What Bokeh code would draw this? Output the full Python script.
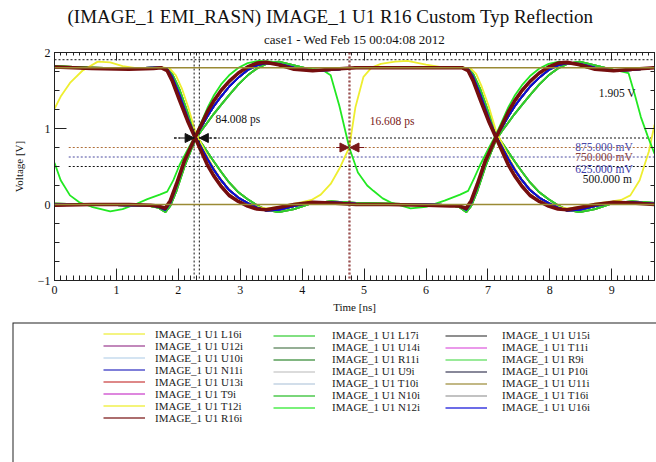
from bokeh.plotting import figure
from bokeh.models import (Range1d, LinearAxis, SingleIntervalTicker, Span, Arrow, BoxAnnotation,
                          NormalHead, Label, Legend, LegendItem, Title, CustomLabelingPolicy)
from bokeh.layouts import column
from bokeh.embed import file_html
from bokeh.resources import INLINE

FONT = "Liberation Serif"

TITLE = "(IMAGE_1 EMI_RASN) IMAGE_1 U1 R16 Custom Typ Reflection"
SUBTITLE = "case1 - Wed Feb 15 00:04:08 2012"
X_LABEL = "Time [ns]"
Y_LABEL = "Voltage [V]"
T_END = 9.69

# ---- main bundle: fall at first crossing, rise at second (time in ns, volts)
T_FR = [0.0, 0.6, 1.2, 1.6, 1.72, 1.82, 1.90, 2.02, 2.15, 2.27, 2.37, 2.47, 2.57, 2.69, 2.82,
        2.97, 3.12, 3.27, 3.42, 3.62, 3.87, 4.17, 4.47, 4.87, 5.4, 6.0, 6.4, 6.53, 6.65, 6.73,
        6.83, 6.96, 7.13, 7.23, 7.33, 7.43, 7.55, 7.68, 7.83, 7.98, 8.13, 8.28, 8.48, 8.73,
        9.03, 9.33, 9.69]
FR_A = [1.81, 1.79, 1.78, 1.79, 1.80, 1.76, 1.63, 1.37, 1.10, 0.88, 0.70, 0.52, 0.38, 0.24,
        0.12, 0.04, -0.02, -0.06, -0.07, -0.04, 0.00, 0.03, 0.02, 0.00, 0.00, -0.01, -0.02,
        -0.02, -0.05, 0.05, 0.27, 0.58, 0.88, 1.05, 1.22, 1.36, 1.50, 1.62, 1.73, 1.81, 1.86,
        1.87, 1.84, 1.78, 1.76, 1.78, 1.80]
FR_B = [1.80, 1.79, 1.79, 1.80, 1.80, 1.78, 1.68, 1.44, 1.14, 0.90, 0.75, 0.60, 0.46, 0.32,
        0.19, 0.09, 0.02, -0.04, -0.08, -0.07, -0.02, 0.03, 0.03, 0.01, 0.00, 0.00, -0.01,
        -0.02, -0.07, 0.02, 0.24, 0.56, 0.88, 1.02, 1.16, 1.29, 1.42, 1.55, 1.67, 1.77, 1.83,
        1.86, 1.85, 1.80, 1.76, 1.77, 1.80]
FR_C = [1.82, 1.80, 1.79, 1.80, 1.80, 1.79, 1.72, 1.51, 1.21, 0.92, 0.81, 0.69, 0.57, 0.43,
        0.29, 0.16, 0.07, -0.01, -0.07, -0.10, -0.06, 0.02, 0.04, 0.02, 0.01, 0.00, -0.01,
        -0.03, -0.10, -0.02, 0.18, 0.50, 0.85, 0.97, 1.08, 1.19, 1.31, 1.44, 1.58, 1.70, 1.79,
        1.85, 1.88, 1.83, 1.77, 1.77, 1.80]

# ---- main bundle: rise at first crossing, fall at second
T_RF = [0.0, 0.6, 1.2, 1.55, 1.67, 1.79, 1.87, 1.97, 2.10, 2.27, 2.37, 2.47, 2.57, 2.69, 2.82,
        2.97, 3.12, 3.27, 3.42, 3.62, 3.87, 4.17, 4.47, 4.87, 5.4, 6.0, 6.4, 6.58, 6.68, 6.76,
        6.88, 7.01, 7.13, 7.23, 7.33, 7.43, 7.55, 7.68, 7.83, 7.98, 8.13, 8.28, 8.48, 8.73,
        9.03, 9.33, 9.69]
RF_A = [-0.01, 0.00, 0.00, -0.01, -0.02, -0.05, 0.05, 0.27, 0.58, 0.88, 1.05, 1.22, 1.36, 1.50,
        1.62, 1.73, 1.81, 1.86, 1.87, 1.84, 1.78, 1.76, 1.78, 1.80, 1.80, 1.80, 1.80, 1.80,
        1.76, 1.63, 1.37, 1.10, 0.88, 0.70, 0.52, 0.38, 0.24, 0.12, 0.04, -0.02, -0.06, -0.07,
        -0.04, 0.00, 0.03, 0.02, 0.00]
RF_B = [0.00, 0.00, -0.01, -0.01, -0.03, -0.07, 0.02, 0.24, 0.56, 0.88, 1.02, 1.16, 1.29, 1.42,
        1.55, 1.67, 1.77, 1.83, 1.86, 1.85, 1.80, 1.76, 1.77, 1.80, 1.80, 1.80, 1.80, 1.80,
        1.78, 1.68, 1.44, 1.14, 0.90, 0.75, 0.60, 0.46, 0.32, 0.19, 0.09, 0.02, -0.04, -0.08,
        -0.07, -0.02, 0.03, 0.03, 0.01]
RF_C = [0.01, 0.00, -0.01, -0.02, -0.04, -0.10, -0.02, 0.18, 0.50, 0.85, 0.97, 1.08, 1.19, 1.31,
        1.44, 1.58, 1.70, 1.79, 1.85, 1.88, 1.83, 1.77, 1.77, 1.80, 1.80, 1.80, 1.80, 1.80,
        1.79, 1.72, 1.51, 1.21, 0.92, 0.81, 0.69, 0.57, 0.43, 0.29, 0.16, 0.07, -0.01, -0.07,
        -0.10, -0.06, 0.02, 0.04, 0.02]

# ---- offset yellow net (L16i)
T_OY = [0.0, 0.1, 0.25, 0.45, 0.7, 0.9, 1.1, 1.35, 1.6, 1.78, 1.87, 1.96, 2.06, 2.16, 2.27,
        2.37, 2.47, 2.57, 2.69, 2.82, 2.97, 3.12, 3.27, 3.42, 3.62, 3.87, 4.0, 4.15, 4.3, 4.46,
        4.6, 4.76, 4.86, 4.99, 5.12, 5.27, 5.5, 5.7, 6.0, 6.3, 6.6, 6.72, 6.81, 6.9, 7.01, 7.13,
        7.23, 7.33, 7.43, 7.55, 7.68, 7.83, 7.98, 8.13, 8.28, 8.48, 8.73, 9.0, 9.15, 9.3, 9.45,
        9.6, 9.69]
OY = [1.26, 1.42, 1.60, 1.76, 1.88, 1.87, 1.82, 1.79, 1.79, 1.80, 1.78, 1.70, 1.52, 1.28, 0.97,
      0.80, 0.63, 0.48, 0.33, 0.20, 0.09, 0.02, -0.03, -0.05, -0.03, 0.01, 0.03, 0.06, 0.13,
      0.27, 0.47, 0.75, 1.28, 1.68, 1.80, 1.85, 1.88, 1.89, 1.84, 1.80, 1.80, 1.79, 1.72, 1.55,
      1.30, 0.97, 0.80, 0.63, 0.48, 0.33, 0.20, 0.09, 0.02, -0.03, -0.05, -0.03, 0.01, 0.04,
      0.06, 0.12, 0.32, 0.70, 1.05]

# ---- offset green net (N12i)
T_OG = [0.0, 0.1, 0.25, 0.4, 0.6, 0.9, 1.1, 1.3, 1.5, 1.7, 1.82, 1.92, 2.02, 2.15, 2.27, 2.37,
        2.47, 2.57, 2.69, 2.82, 2.97, 3.12, 3.3, 3.5, 3.75, 4.0, 4.2, 4.35, 4.46, 4.6, 4.76, 4.9,
        5.05, 5.15, 5.3, 5.45, 5.75, 6.0, 6.3, 6.55, 6.68, 6.78, 6.88, 7.0, 7.13, 7.23, 7.33,
        7.43, 7.55, 7.68, 7.83, 7.98, 8.15, 8.35, 8.6, 8.9, 9.1, 9.27, 9.37, 9.47, 9.58, 9.69]
OG = [0.55, 0.32, 0.12, 0.03, -0.03, -0.09, -0.06, 0.00, 0.07, 0.13, 0.17, 0.32, 0.52, 0.72,
      0.90, 1.08, 1.27, 1.43, 1.58, 1.70, 1.80, 1.86, 1.89, 1.88, 1.82, 1.78, 1.78, 1.76, 1.70,
      1.30, 0.75, 0.42, 0.25, 0.18, 0.08, 0.02, -0.05, -0.03, 0.05, 0.13, 0.18, 0.35, 0.53,
      0.72, 0.92, 1.10, 1.28, 1.43, 1.57, 1.69, 1.79, 1.85, 1.88, 1.86, 1.80, 1.77, 1.76, 1.73,
      1.45, 1.15, 0.90, 0.67]

# ---- static net levels (U11i)
RAIL_LEVELS = [1.80, 0.00]

# ---- measurement cursors
CURSOR_A = [2.255, 2.339]          # 84.008 ps apart
CURSOR_B = [4.7555, 4.7721]        # 16.608 ps apart
LEVELS = [1.905, 0.875, 0.750, 0.625, 0.500]
LEVEL_START = [0.0, 1.93, 0.23, 0.23, 0.23]
LEVEL_TEXT = ["1.905 V", "875.000 mV", "750.000 mV", "625.000 mV", "500.000 m"]
MEAS_TEXT = ["84.008 ps", "16.608 ps"]

# ---- nets (legend columns)
COL1 = ["IMAGE_1 U1 L16i", "IMAGE_1 U1 U12i", "IMAGE_1 U1 U10i", "IMAGE_1 U1 N11i",
        "IMAGE_1 U1 U13i", "IMAGE_1 U1 T9i", "IMAGE_1 U1 T12i", "IMAGE_1 U1 R16i"]
COL2 = ["IMAGE_1 U1 L17i", "IMAGE_1 U1 U14i", "IMAGE_1 U1 R11i", "IMAGE_1 U1 U9i",
        "IMAGE_1 U1 T10i", "IMAGE_1 U1 N10i", "IMAGE_1 U1 N12i"]
COL3 = ["IMAGE_1 U1 U15i", "IMAGE_1 U1 T11i", "IMAGE_1 U1 R9i", "IMAGE_1 U1 P10i",
        "IMAGE_1 U1 U11i", "IMAGE_1 U1 T16i", "IMAGE_1 U1 U16i"]

COLORS = {
    "IMAGE_1 U1 L16i": "#eeee30", "IMAGE_1 U1 U12i": "#9a3a8e", "IMAGE_1 U1 U10i": "#b8d2ea",
    "IMAGE_1 U1 N11i": "#2a2ac0", "IMAGE_1 U1 U13i": "#c83a3a", "IMAGE_1 U1 T9i": "#c838c8",
    "IMAGE_1 U1 T12i": "#eeee22", "IMAGE_1 U1 R16i": "#760e0e", "IMAGE_1 U1 L17i": "#30cc30",
    "IMAGE_1 U1 U14i": "#4f7a4f", "IMAGE_1 U1 R11i": "#2e862e", "IMAGE_1 U1 U9i": "#c4c4c4",
    "IMAGE_1 U1 T10i": "#b4c8dc", "IMAGE_1 U1 N10i": "#22bb22", "IMAGE_1 U1 N12i": "#22e822",
    "IMAGE_1 U1 U15i": "#454545", "IMAGE_1 U1 T11i": "#dd55dd", "IMAGE_1 U1 R9i": "#55dd55",
    "IMAGE_1 U1 P10i": "#3a3a55", "IMAGE_1 U1 U11i": "#9a8a34", "IMAGE_1 U1 T16i": "#9a9a9a",
    "IMAGE_1 U1 U16i": "#0a0ad8",
}

# which waveform set each net follows (drawn in this order)
DRAW = [
    ("IMAGE_1 U1 U11i", "rail"),
    ("IMAGE_1 U1 U10i", "b"), ("IMAGE_1 U1 U9i", "b"), ("IMAGE_1 U1 T10i", "b"),
    ("IMAGE_1 U1 T16i", "b"),
    ("IMAGE_1 U1 T9i", "c"), ("IMAGE_1 U1 T12i", "c"), ("IMAGE_1 U1 R9i", "c"),
    ("IMAGE_1 U1 N10i", "c"), ("IMAGE_1 U1 L17i", "c"),
    ("IMAGE_1 U1 L16i", "oy"), ("IMAGE_1 U1 N12i", "og"),
    ("IMAGE_1 U1 U12i", "b"), ("IMAGE_1 U1 U13i", "b"), ("IMAGE_1 U1 T11i", "b"),
    ("IMAGE_1 U1 U14i", "b"), ("IMAGE_1 U1 R11i", "b"), ("IMAGE_1 U1 N11i", "b"),
    ("IMAGE_1 U1 U16i", "b"),
    ("IMAGE_1 U1 U15i", "a"), ("IMAGE_1 U1 P10i", "a"), ("IMAGE_1 U1 R16i", "a"),
]

WAVES = {"a": [(T_FR, FR_A), (T_RF, RF_A)],
         "b": [(T_FR, FR_B), (T_RF, RF_B)],
         "c": [(T_FR, FR_C), (T_RF, RF_C)],
         "oy": [(T_OY, OY)],
         "og": [(T_OG, OG)]}

NO_LABELS = "return new Set()"

# ===================== main plot =====================
p = figure(title=None, frame_width=600, frame_height=228,
           x_range=Range1d(0, T_END), y_range=Range1d(-1, 2),
           output_backend="svg", toolbar_location=None,
           min_border_left=54, min_border_right=2, min_border_top=52, min_border_bottom=41,
           outline_line_color="#222222", background_fill_color="white",
           border_fill_color="white")
p.frame_align = False
p.grid.visible = False

p.xaxis.ticker = SingleIntervalTicker(interval=1, num_minor_ticks=10)
p.yaxis.ticker = SingleIntervalTicker(interval=1, num_minor_ticks=4)
for ax in (p.xaxis[0], p.yaxis[0]):
    ax.major_tick_in = 12
    ax.major_tick_out = 0
    ax.minor_tick_in = 5
    ax.minor_tick_out = 0
    ax.major_tick_line_color = "#222222"
    ax.minor_tick_line_color = "#222222"
    ax.axis_line_color = "#222222"
    ax.major_label_text_font = FONT
    ax.major_label_text_font_size = "12px"
    ax.major_label_text_color = "#111111"
    ax.axis_label_text_font = FONT
    ax.axis_label_text_font_size = "11px"
    ax.axis_label_text_font_style = "normal"
    ax.axis_label_text_color = "#111111"
p.xaxis.axis_label = X_LABEL
p.yaxis.axis_label = Y_LABEL
p.xaxis.major_label_standoff = 5
p.xaxis.axis_label_standoff = 4
p.yaxis.major_label_standoff = 4
p.yaxis.axis_label_standoff = 10

top_ax = LinearAxis(ticker=SingleIntervalTicker(interval=1, num_minor_ticks=10),
                    major_tick_in=8, major_tick_out=0, minor_tick_in=3, minor_tick_out=0,
                    major_label_text_font_size="1px", major_label_standoff=0,
                    major_label_policy=CustomLabelingPolicy(code=NO_LABELS),
                    axis_line_color="#222222", major_tick_line_color="#222222",
                    minor_tick_line_color="#222222")
right_ax = LinearAxis(ticker=SingleIntervalTicker(interval=1, num_minor_ticks=4),
                      major_tick_in=10, major_tick_out=0, minor_tick_in=4, minor_tick_out=0,
                      major_label_text_font_size="1px", major_label_standoff=0,
                      major_label_policy=CustomLabelingPolicy(code=NO_LABELS),
                      axis_line_color="#222222", major_tick_line_color="#222222",
                      minor_tick_line_color="#222222")
p.add_layout(top_ax, "above")
p.add_layout(right_ax, "right")
p.add_layout(Title(text=SUBTITLE, align="center", text_font=FONT, text_font_size="13px",
                   text_font_style="normal", text_color="#111111", standoff=4), "above")
p.add_layout(Title(text=TITLE, align="left", offset=13, text_font=FONT, text_font_size="19px",
                   text_font_style="normal", text_color="#111111", standoff=2), "above")

# measurement cursors (under the traces)
for t in CURSOR_A:
    p.add_layout(Span(location=t, dimension="height", line_color="#111111",
                      line_dash="2 2", line_width=1))
for t in CURSOR_B:
    p.add_layout(Span(location=t, dimension="height", line_color="#7a1818",
                      line_dash="2 2", line_width=1))
LEVEL_COLORS = ["#111111", "#111111", "#b0703a", "#4a4aa0", "#111111"]
p.segment(x0=LEVEL_START, y0=LEVELS, x1=[T_END] * len(LEVELS), y1=LEVELS,
          line_color=LEVEL_COLORS, line_dash="2 2", line_width=1)

# traces
for name, kind in DRAW:
    col = COLORS[name]
    if kind == "rail":
        for lv in RAIL_LEVELS:
            p.add_layout(Span(location=lv, dimension="width", line_color=col, line_width=1.5))
        continue
    lw = 3.6 if name.endswith("R16i") else 1.8
    for tx, vy in WAVES[kind]:
        p.line(tx, vy, line_color=col, line_width=lw, line_join="round")

# arrows
p.add_layout(Arrow(end=NormalHead(size=9, fill_color="#111111", line_color="#111111"),
                   x_start=1.93, y_start=LEVELS[1], x_end=CURSOR_A[0], y_end=LEVELS[1],
                   line_color="#111111", line_dash="3 2", line_width=1))
p.add_layout(Arrow(end=NormalHead(size=9, fill_color="#111111", line_color="#111111"),
                   x_start=2.62, y_start=LEVELS[1], x_end=CURSOR_A[1], y_end=LEVELS[1],
                   line_color="#111111", line_dash="3 2", line_width=1))
p.add_layout(Arrow(end=NormalHead(size=9, fill_color="#7a1818", line_color="#7a1818"),
                   x_start=4.55, y_start=LEVELS[2], x_end=CURSOR_B[0], y_end=LEVELS[2],
                   line_color="#7a1818", line_width=1))
p.add_layout(Arrow(end=NormalHead(size=9, fill_color="#7a1818", line_color="#7a1818"),
                   x_start=5.0, y_start=LEVELS[2], x_end=CURSOR_B[1], y_end=LEVELS[2],
                   line_color="#7a1818", line_width=1))

# labels
lab_kw = dict(text_font=FONT, text_font_size="11.5px", text_baseline="middle")
p.add_layout(Label(x=2.6, y=1.12, text=MEAS_TEXT[0], text_color="#111111", **lab_kw))
p.add_layout(Label(x=5.09, y=1.10, text=MEAS_TEXT[1], text_color="#7a2020", **lab_kw))
p.add_layout(Label(x=8.79, y=1.47, text=LEVEL_TEXT[0], text_color="#111111", **lab_kw))
p.add_layout(Label(x=8.41, y=0.76, text=LEVEL_TEXT[1], text_color="#4848a8", **lab_kw))
p.add_layout(Label(x=8.41, y=0.62, text=LEVEL_TEXT[2], text_color="#884040", **lab_kw))
p.add_layout(Label(x=8.41, y=0.47, text=LEVEL_TEXT[3], text_color="#3a3aa8", **lab_kw))
p.add_layout(Label(x=8.53, y=0.34, text=LEVEL_TEXT[4], text_color="#111111", **lab_kw))

# ===================== legend panel =====================
# proxy renderers carry the same data but sit far outside this panel's ranges
p2 = figure(title=None, frame_width=644, frame_height=140,
            x_range=Range1d(100, 101), y_range=Range1d(100, 101),
            output_backend="svg", toolbar_location=None,
            x_axis_location=None, y_axis_location=None,
            min_border_left=12, min_border_right=0, min_border_top=1, min_border_bottom=0,
            outline_line_color=None, border_fill_color="white")
p2.frame_align = False
p2.grid.visible = False
# legend box: only its top and left edges fall inside the page
p2.add_layout(BoxAnnotation(left=100, right=300, bottom=-300, top=101, fill_alpha=0,
                            line_color="#222222", line_width=2, line_alpha=1))

def make_legend(names, loc, standoff):
    items = []
    for n in names:
        r = p2.line(T_FR, FR_A, line_color=COLORS[n], line_width=1.3, line_alpha=0.8)
        items.append(LegendItem(label=n, renderers=[r]))
    lg = Legend(items=items, location=loc, orientation="vertical", padding=0, margin=0,
                spacing=0, glyph_width=42, glyph_height=11, label_height=11,
                label_standoff=standoff, label_text_font=FONT, label_text_font_size="11px",
                label_text_color="#222222", border_line_color=None,
                background_fill_alpha=0)
    p2.add_layout(lg)

make_legend(COL1, (91, 38.5), 10)
make_legend(COL2, (261, 49), 17)
make_legend(COL3, (433, 49), 15)

layout = column(p, p2, spacing=0)
open("out.html", "w").write(file_html(layout, INLINE))
